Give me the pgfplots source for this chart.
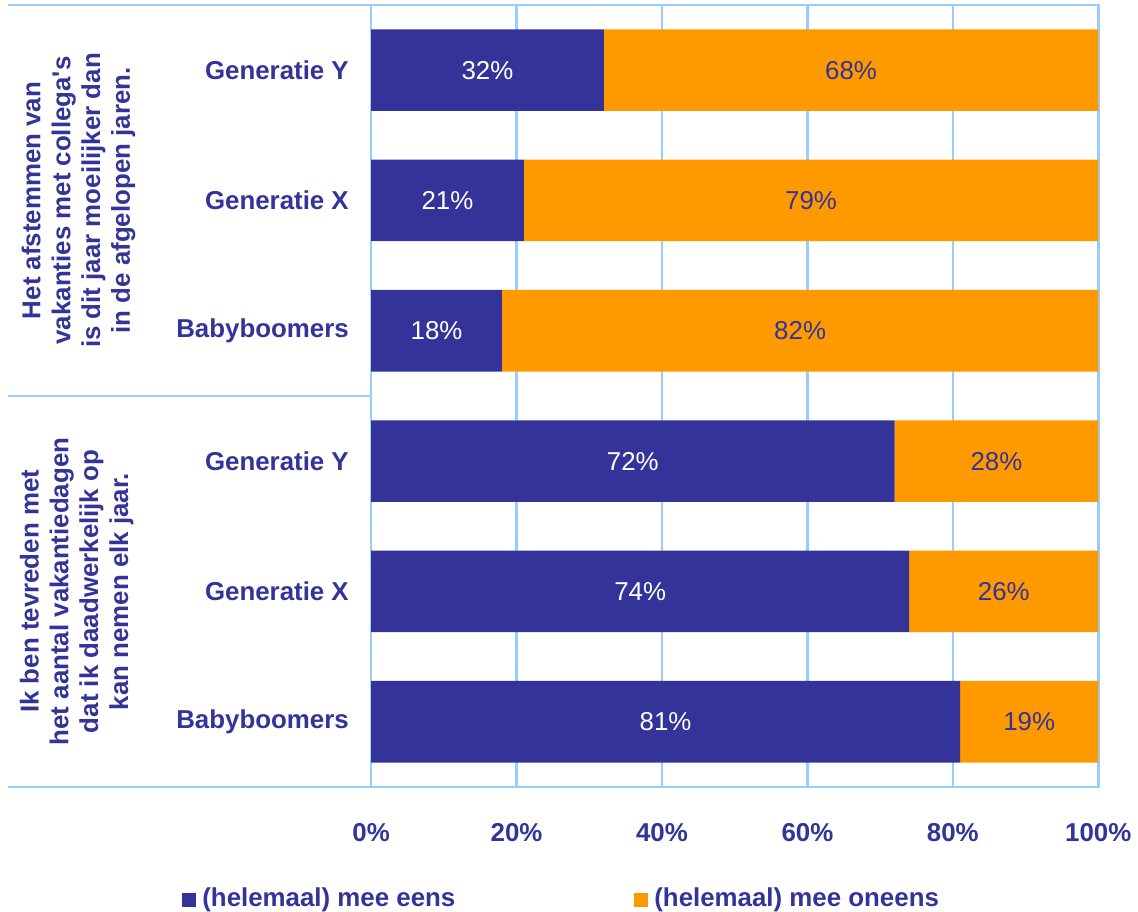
\documentclass[border=0pt]{standalone}
\usepackage{fontspec}
\setmainfont{Liberation Sans}
\usepackage{pgfplots}
\usepackage{pgfplotstable}
\pgfplotsset{compat=1.18}
\definecolor{navy}{RGB}{51,51,153}
\definecolor{orangebar}{RGB}{255,153,0}
\definecolor{gridblue}{RGB}{153,204,255}

% rows numbered bottom-up: 6 = top bar
\pgfplotstableread{
row eens oneens
6 32 68
5 21 79
4 18 82
3 72 28
2 74 26
1 81 19
}\results

\newcommand{\lblfont}{\fontsize{13}{15.5}\selectfont}

\begin{document}
\begin{tikzpicture}
\begin{axis}[
scale only axis,
width=365.5pt, height=393pt,
xbar stacked, bar width=41pt,
xmin=0, xmax=100, ymin=0.5, ymax=6.5,
xtick={0,20,...,100},
xticklabel={\pgfmathprintnumber{\tick}\%},
ytick={1,...,6},
yticklabels={Babyboomers,Generatie X,Generatie Y,Babyboomers,Generatie X,Generatie Y},
major tick length=0pt,
xmajorgrids,
grid style={draw=gridblue, line width=1.3pt},
axis line style={draw=gridblue, line width=1.3pt},
ticklabel style={font=\lblfont\bfseries, text=navy},
/pgf/number format/assume math mode=true,
xticklabel style={anchor=base, yshift=-27.5pt},
yticklabel style={anchor=east, inner sep=0pt, xshift=-11pt},
nodes near coords={\pgfmathprintnumber{\pgfplotspointmeta}\%},
every node near coord/.append style={anchor=center, font=\lblfont},
clip=false,
legend columns=2,
legend image code/.code={\fill[#1] (0pt,-4.5pt) rectangle (7pt,2.5pt); \path (9pt,0pt);},
legend style={draw=none, fill=none, inner sep=0pt,
  at={([xshift=-95pt,yshift=-56pt]axis description cs:0,0)}, anchor=west,
  font=\lblfont\bfseries, text=navy, nodes={inner sep=1pt},
  /tikz/every even column/.append style={column sep=89pt}},
]
\addplot+[fill=navy, draw=none, every node near coord/.append style={text=white}]
  table[x=eens, y=row] {\results};
\addlegendentry{(helemaal) mee eens}
\addplot+[fill=orangebar, draw=none, every node near coord/.append style={text=navy}]
  table[x=oneens, y=row] {\results};
\addlegendentry{(helemaal) mee oneens}

\draw[gridblue, line width=1.3pt] ([xshift=-182.5pt]axis cs:0,6.5) -- (axis cs:0,6.5);
\draw[gridblue, line width=1.3pt] ([xshift=-182.5pt]axis cs:0,3.5) -- (axis cs:0,3.5);
\draw[gridblue, line width=1.3pt] ([xshift=-182.5pt]axis cs:0,0.5) -- (axis cs:0,0.5);

\node[rotate=90, align=center, font=\fontsize{13}{15}\selectfont\bfseries, text=navy]
  at ([xshift=-147pt]axis cs:0,5) {Het afstemmen van\\vakanties met collega\textquotesingle s\\is dit jaar moeilijker dan\\in de afgelopen jaren.};
\node[rotate=90, align=center, font=\fontsize{13}{15}\selectfont\bfseries, text=navy]
  at ([xshift=-148pt]axis cs:0,2) {Ik ben tevreden met\\het aantal vakantiedagen\\dat ik daadwerkelijk op\\kan nemen elk jaar.};

% page frame matching the reference margins
\path ([xshift=-186.5pt,yshift=2.5pt]axis cs:0,6.5) (
[xshift=17pt,yshift=-61pt]axis cs:100,0.5);
\end{axis}
\end{tikzpicture}
\end{document}
